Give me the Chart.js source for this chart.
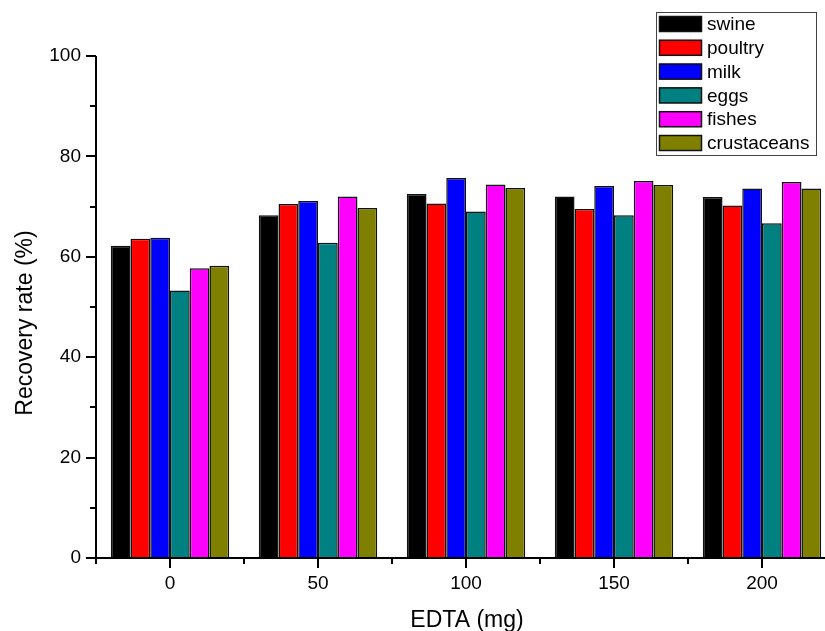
<!DOCTYPE html>
<html>
<head>
<meta charset="utf-8">
<title>Recovery rate vs EDTA</title>
<script src="https://cdn.jsdelivr.net/npm/chart.js@4/dist/chart.umd.min.js"></script>
<style>
  html, body { margin: 0; padding: 0; background: #fff; overflow: hidden; width: 825px; height: 631px; }
  canvas { display: block; }
</style>
</head>
<body>
<canvas id="recoveryChart" width="840" height="631"></canvas>
<script>
// data
const categories = ['0', '50', '100', '150', '200'];
const swine       = [62.2, 68.3, 72.5, 72.0, 71.9];
const poultry     = [63.6, 70.5, 70.6, 69.5, 70.2];
const milk        = [63.8, 71.1, 75.7, 74.1, 73.6];
const eggs        = [53.3, 62.8, 69.0, 68.3, 66.7];
const fishes      = [57.7, 72.0, 74.4, 75.1, 74.9];
const crustaceans = [58.2, 69.7, 73.7, 74.3, 73.6];
const yTicks = [0, 20, 40, 60, 80, 100];

const FONT = "'Liberation Sans', Arial, sans-serif";

function series(label, data, color) {
    return {
        label: label,
        data: data,
        backgroundColor: color,
        borderColor: '#111',
        borderWidth: 1.5,
        barPercentage: 1.0,
        categoryPercentage: 0.8
    };
}

// axes, ticks, titles and legend drawn by hand to look like the Origin plot
const originAxes = {
    id: 'originAxes',
    afterDraw(chart) {
        const ctx = chart.ctx;
        const x = chart.scales.x;
        const y = chart.scales.y;
        const area = chart.chartArea;
        const y0 = y.getPixelForValue(0);
        const yTop = y.getPixelForValue(100);

        ctx.save();
        ctx.strokeStyle = '#000';
        ctx.lineWidth = 2;
        ctx.beginPath();
        ctx.moveTo(area.left, yTop);
        ctx.lineTo(area.left, y0 + 1);
        ctx.moveTo(area.left - 1, y0);
        ctx.lineTo(area.right, y0);
        ctx.stroke();

        // y ticks, major and minor
        ctx.beginPath();
        for (let v = 0; v <= 100; v += 10) {
            const py = Math.round(y.getPixelForValue(v));
            const len = v % 20 === 0 ? 10 : 6;
            ctx.moveTo(area.left - len, py);
            ctx.lineTo(area.left, py);
        }
        // x ticks: major at categories, minor at boundaries
        const step = x.getPixelForTick(1) - x.getPixelForTick(0);
        for (let i = 0; i < categories.length; i++) {
            const px = Math.round(x.getPixelForTick(i));
            ctx.moveTo(px, y0);
            ctx.lineTo(px, y0 + 10);
            const bx = Math.round(x.getPixelForTick(i) - step / 2);
            ctx.moveTo(bx, y0);
            ctx.lineTo(bx, y0 + 6);
        }
        const last = Math.round(x.getPixelForTick(categories.length - 1) + step / 2);
        ctx.moveTo(last, y0);
        ctx.lineTo(last, y0 + 6);
        ctx.stroke();

        // axis titles
        ctx.fillStyle = '#000';
        ctx.font = '23px ' + FONT;
        ctx.textAlign = 'center';
        ctx.textBaseline = 'alphabetic';
        ctx.fillText('EDTA (mg)', 467, 627);
        ctx.translate(31.5, 323);
        ctx.rotate(-Math.PI / 2);
        ctx.fillText('Recovery rate (%)', 0, 0);
        ctx.restore();

        // legend box
        ctx.save();
        ctx.fillStyle = '#fff';
        ctx.fillRect(656, 12, 161, 144);
        ctx.strokeStyle = '#444';
        ctx.lineWidth = 1;
        ctx.strokeRect(656.5, 12.5, 160, 143);
        ctx.font = '19px ' + FONT;
        ctx.textAlign = 'left';
        ctx.textBaseline = 'middle';
        chart.data.datasets.forEach(function(ds, i) {
            const top = 16 + i * 23.8;
            ctx.fillStyle = ds.backgroundColor;
            ctx.fillRect(659, top, 43, 16);
            ctx.strokeStyle = '#111';
            ctx.lineWidth = 1.5;
            ctx.strokeRect(659.5, top + 0.5, 42, 15);
            ctx.fillStyle = '#000';
            ctx.fillText(ds.label, 707, top + 9);
        });
        ctx.restore();
    }
};

new Chart(document.getElementById('recoveryChart'), {
    type: 'bar',
    data: {
        labels: categories,
        datasets: [
            series('swine', swine, '#000000'),
            series('poultry', poultry, '#ff0000'),
            series('milk', milk, '#0000ff'),
            series('eggs', eggs, '#008080'),
            series('fishes', fishes, '#ff00ff'),
            series('crustaceans', crustaceans, '#808000')
        ]
    },
    plugins: [originAxes],
    options: {
        responsive: false,
        animation: false,
        layout: {
            padding: { left: 0, top: 56, right: 4, bottom: 0 }
        },
        plugins: {
            legend: { display: false },
            tooltip: { enabled: false }
        },
        scales: {
            x: {
                grid: { display: false, drawTicks: false },
                border: { display: false },
                ticks: {
                    color: '#000',
                    font: { family: FONT, size: 19 },
                    padding: 14,
                    maxRotation: 0
                },
                afterFit: function(s) { s.height = 73; }
            },
            y: {
                min: 0,
                max: 100,
                grid: { display: false, drawTicks: false },
                border: { display: false },
                afterBuildTicks: function(s) {
                    s.ticks = yTicks.map(function(v) { return { value: v }; });
                },
                ticks: {
                    color: '#000',
                    font: { family: FONT, size: 19 },
                    padding: 15
                },
                afterFit: function(s) { s.width = 96; }
            }
        }
    }
});
</script>
</body>
</html>
